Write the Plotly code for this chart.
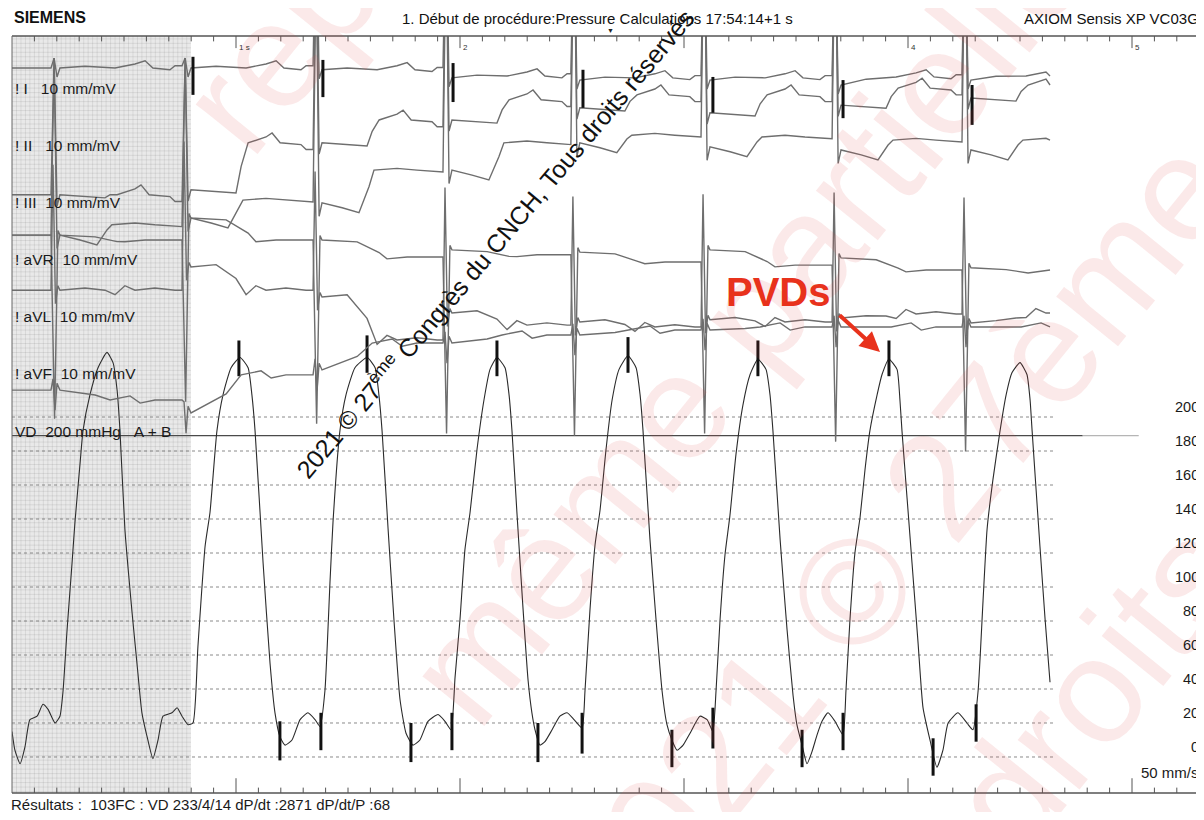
import plotly.graph_objects as go

# ---------------- data read from the recording ----------------
# Right-ventricular pressure (VD), time in s, pressure in mmHg
pressure_t = [
    0.000, 0.013, 0.036, 0.058, 0.080, 0.112, 0.138, 0.161, 0.192, 0.214, 0.228, 0.246, 0.268, 0.281,
    0.304, 0.317, 0.348, 0.384, 0.424, 0.451, 0.469, 0.482, 0.504, 0.536, 0.558, 0.580, 0.603, 0.629,
    0.652, 0.674, 0.714, 0.737, 0.759, 0.786, 0.808,
    0.830, 0.862, 0.884, 0.915, 0.942, 0.978, 1.018, 1.054, 1.071, 1.085, 1.121, 1.152, 1.174, 1.196,
    1.219, 1.250, 1.286, 1.321, 1.353, 1.375,
    1.397, 1.420, 1.433, 1.464, 1.491, 1.531, 1.585, 1.621, 1.638, 1.652, 1.679, 1.705, 1.732, 1.759,
    1.790, 1.821, 1.857, 1.902, 1.933, 1.960,
    1.978, 2.000, 2.022, 2.045, 2.076, 2.107, 2.134, 2.165, 2.201, 2.219, 2.232, 2.254, 2.281, 2.304,
    2.321, 2.335, 2.357, 2.379, 2.411, 2.446, 2.478, 2.509, 2.545,
    2.558, 2.580, 2.603, 2.625, 2.652, 2.679, 2.710, 2.750, 2.786, 2.804, 2.817, 2.848, 2.875, 2.902,
    2.924, 2.946, 2.969, 2.996, 3.027, 3.071, 3.103, 3.129,
    3.143, 3.161, 3.183, 3.205, 3.232, 3.263, 3.295, 3.330, 3.366, 3.384, 3.397, 3.429, 3.460, 3.487,
    3.504, 3.527, 3.549, 3.571, 3.594, 3.616, 3.643, 3.674, 3.710,
    3.723, 3.741, 3.763, 3.786, 3.808, 3.830, 3.862, 3.884, 3.915, 3.951, 3.964, 3.973, 4.018, 4.045,
    4.067, 4.098, 4.129, 4.156, 4.179, 4.223, 4.263, 4.290,
    4.313, 4.335, 4.353, 4.379, 4.411, 4.438, 4.464, 4.500, 4.531, 4.545, 4.554, 4.589, 4.612, 4.634,
]
pressure_mmhg = [
    15, 4, -4, 6, 22, 24, 31, 28, 20, 24, 39, 75, 114, 138,
    173, 192, 213, 229, 238, 232, 216, 192, 134, 85, 55, 26, 12, -1,
    10, 24, 26, 29, 24, 19, 20,
    65, 124, 144, 192, 213, 229, 235, 229, 213, 192, 114, 55, 26, 12,
    7, 10, 22, 26, 22, 18,
    39, 104, 138, 192, 213, 229, 235, 229, 213, 192, 134, 81, 34, 14,
    7, 10, 21, 25, 21, 16,
    47, 81, 122, 144, 181, 210, 228, 235, 229, 213, 192, 144, 88, 45,
    26, 16, 7, 9, 16, 24, 26, 22, 17,
    39, 86, 125, 145, 181, 210, 228, 236, 229, 213, 192, 128, 81, 39,
    19, 10, 4, 7, 14, 24, 22, 15,
    39, 81, 119, 142, 178, 207, 225, 234, 228, 213, 192, 128, 75, 36,
    19, 7, -4, 3, 13, 21, 26, 21, 13,
    39, 81, 120, 141, 169, 192, 213, 225, 234, 228, 210, 192, 114, 67,
    29, 10, -6, 4, 20, 26, 20, 16,
    39, 92, 134, 163, 192, 213, 226, 232, 225, 210, 192, 124, 81, 44,
]

# QRS times (s) and end of the written record (s)
qrs_t = [0.192, 0.777, 1.362, 1.942, 2.513, 3.094, 3.679, 4.259]
record_end_t = 4.634
# highest R-wave level written by the limb leads at each beat (mV on the display scale)
r_wave_limit = [16.47, 16.47, 20.0, 20.0, 20.0, 20.0, 20.0, 20.0]

# ECG leads: level after QRS / plateau level of each beat (mV on the display scale)
lead_I_post = [16.25, 16.25, 16.21, 16.03, 15.98, 15.98, 15.87, 15.98]
lead_I_plat = [16.25, 16.25, 16.21, 16.07, 16.03, 16.03, 16.05, 16.07]
lead_II_post = [13.42, 13.53, 14.58, 15.09, 15.36, 15.25, 15.42, 15.58]
lead_II_plat = [13.42, 14.58, 15.09, 15.54, 15.65, 15.65, 15.80, 15.87]
lead_III_post = [12.52, 12.90, 13.24, 13.97, 14.58, 14.49, 14.42, 14.42]
lead_III_plat = [12.75, 13.30, 13.97, 14.58, 14.75, 14.71, 14.64, 14.64]
lead_aVR_post = [12.52, 12.90, 12.41, 12.19, 12.14, 12.19, 12.01, 11.79]
lead_aVR_plat = [12.41, 12.41, 12.03, 12.08, 11.92, 11.85, 11.74, 11.74]
lead_aVL_post = [11.29, 11.81, 11.14, 10.78, 10.58, 10.63, 10.67, 10.56]
lead_aVL_plat = [11.29, 11.29, 10.18, 10.51, 10.47, 10.58, 10.76, 10.78]
lead_aVF_post = [9.06, 8.55, 9.51, 10.11, 10.29, 10.40, 10.47, 10.47]
lead_aVF_plat = [8.84, 9.40, 10.11, 10.29, 10.40, 10.47, 10.47, 10.47]

# QRS complex of each lead: (ms from QRS, mV relative to post level)
qrs_I = [(-4, 3.8), (9, -0.2), (22, 0.0)]
qrs_II = [(-4, 4.6), (9, -0.25), (22, 0.0)]
qrs_III = [(-4, 5.4), (9, -0.3), (22, 0.0)]
qrs_aVR = [(-2, -4.1), (13, 0.1), (22, 0.0)]
qrs_aVL = [(-9, 2.8), (2, -0.3), (13, 0.1), (22, 0.0)]
qrs_aVF = [(-9, 0.25), (0, -0.45), (9, 0.15), (22, 0.0)]

# ST-T segment of each lead: (ms from QRS, level 0=post 1=mid 2=plateau, mV)
st_I = [(134, 1, 0.04), (268, 2, 0.0), (357, 2, 0.09), (402, 2, 0.16), (437, 2, 0.0), (513, 2, -0.04), (536, 2, 0.05)]
st_II = [(134, 0, -0.04), (223, 0, -0.07), (246, 1, 0.0), (277, 2, 0.0), (357, 2, 0.13), (384, 2, 0.22),
         (420, 2, 0.0), (513, 2, -0.04), (536, 2, -0.15)]
st_III = [(112, 0, -0.11), (187, 0, -0.22), (232, 1, 0.0), (254, 2, 0.0), (357, 2, 0.04), (446, 2, 0.0), (536, 2, -0.04)]
st_aVR = [(179, 0, -0.04), (277, 1, -0.09), (312, 2, -0.04), (402, 2, 0.0), (536, 2, 0.0)]
st_aVL = [(134, 0, 0.05), (223, 1, 0.0), (268, 2, -0.1), (312, 2, 0.1), (357, 2, 0.0), (446, 2, 0.05), (536, 2, 0.0)]
st_aVF = [(179, 1, 0.0), (246, 2, 0.0), (335, 2, 0.09), (380, 2, -0.07), (446, 2, 0.0), (536, 2, 0.0)]

# analysis markers
qrs_mark_t = [0.808, 1.388, 1.969, 2.549, 3.129, 3.710, 4.286]
qrs_mark_top = [16.50, 16.43, 16.36, 16.21, 16.05, 15.98, 15.87]
qrs_mark_bot = [15.65, 15.60, 15.49, 15.36, 15.25, 15.13, 14.98]
peak_mark_t = [1.013, 1.585, 2.165, 2.750, 3.330, 3.915]
peak_mark_hi = [245, 248, 245, 247, 245, 245]
peak_mark_lo = [224, 226, 224, 226, 224, 224]
dia_mark_t = [1.196, 1.379, 1.781, 1.964, 2.348, 2.545, 2.946, 3.129, 3.527, 3.710, 4.112, 4.304]
dia_mark_hi = [21, 26, 20, 26, 20, 26, 16, 29, 16, 26, 11, 31]
dia_mark_lo = [-2, 4, -3, 4, -3, 2, -6, 5, -6, 4, -11, 9]

pressure_grid = [0, 20, 40, 60, 80, 100, 120, 140, 160, 180, 200]
pressure_ref_line = 189
lead_labels = ["! I&nbsp;&nbsp;&nbsp;10 mm/mV", "! II&nbsp;&nbsp;&nbsp;10 mm/mV", "! III&nbsp;&nbsp;10 mm/mV",
               "! aVR&nbsp;&nbsp;10 mm/mV", "! aVL&nbsp;&nbsp;10 mm/mV", "! aVF&nbsp;&nbsp;10 mm/mV",
               "VD&nbsp;&nbsp;200 mmHg&nbsp;&nbsp;&nbsp;A + B"]
second_labels = {1: "1 s", 2: "2", 4: "4", 5: "5"}
watermark_texts = ["reproduction", "même partielle", "2021 © 27ème", "Tous droits réservés"]

# ---------------- display scales ----------------
X_RANGE = [0, 5.3214]
P_RANGE = [-21.18, 424.12]
E_RANGE = [0.067, 16.964]
SHADE_END = 0.799
GRID_END = 4.66
FONT = "Liberation Sans, Arial, sans-serif"
RED = "#e8321c"

fig = go.Figure()

# shaded frozen segment with fine grid
fig.add_shape(type="rect", xref="x", yref="paper", x0=0, x1=SHADE_END, y0=0, y1=1,
              fillcolor="#e9e9e9", line_width=0, layer="below")
gx, gy = [], []
k = 1
while 0.02 * k < SHADE_END:
    gx += [0.02 * k, 0.02 * k, None]
    gy += [E_RANGE[0], E_RANGE[1], None]
    k += 1
k = 1
while 0.1 * k < E_RANGE[1]:
    gx += [0, SHADE_END, None]
    gy += [0.1 * k, 0.1 * k, None]
    k += 1
fig.add_trace(go.Scatter(x=gx, y=gy, yaxis="y2", mode="lines",
                         line=dict(color="rgba(90,90,90,0.12)", width=1), hoverinfo="skip"))

# pressure grid
px, py = [], []
for v in pressure_grid:
    px += [0, GRID_END, None]
    py += [v, v, None]
fig.add_trace(go.Scatter(x=px, y=py, mode="lines",
                         line=dict(color="#8a8a8a", width=1, dash="dot"), hoverinfo="skip"))
fig.add_trace(go.Scatter(x=[0, 4.78], y=[pressure_ref_line, pressure_ref_line], mode="lines",
                         line=dict(color="#4a4a4a", width=1.3), hoverinfo="skip"))
fig.add_trace(go.Scatter(x=[4.78, 5.03], y=[pressure_ref_line, pressure_ref_line], mode="lines",
                         line=dict(color="#b5b5b5", width=1.3), hoverinfo="skip"))

# time ticks (top and bottom)
tx, ty = [], []
for k in range(1, 54):
    t = k / 10
    major = (k % 10 == 0)
    tx += [t, t, None]
    ty += [E_RANGE[1], E_RANGE[1] - (0.27 if major else 0.12), None]
    tx += [t, t, None]
    ty += [E_RANGE[0], E_RANGE[0] + (0.33 if major else 0.12), None]
fig.add_trace(go.Scatter(x=tx, y=ty, yaxis="y2", mode="lines",
                         line=dict(color="#555", width=1), hoverinfo="skip"))


# ECG leads
def build_lead(post, plat, qrs, st, limit=None):
    xs, ys = [0.0], [post[0]]
    n = len(qrs_t)
    tail = st[-1][2]
    for i, tq in enumerate(qrs_t):
        prev = plat[i - 1] + tail if i > 0 else post[0]
        xs.append(tq - 0.018)
        ys.append(prev)
        for ms, v in qrs:
            val = post[i] + v
            if limit is not None:
                val = min(val, limit[i])
            xs.append(tq + ms / 1000)
            ys.append(val)
        nxt = qrs_t[i + 1] - 0.02 if i + 1 < n else record_end_t
        for ms, code, v in st:
            t = tq + ms / 1000
            if t >= nxt:
                break
            base = post[i] if code == 0 else plat[i] if code == 2 else (post[i] + plat[i]) / 2
            xs.append(t)
            ys.append(base + v)
    xs.append(record_end_t)
    ys.append(plat[-1])
    return xs, ys


leads = [
    (lead_I_post, lead_I_plat, qrs_I, st_I, r_wave_limit),
    (lead_II_post, lead_II_plat, qrs_II, st_II, r_wave_limit),
    (lead_III_post, lead_III_plat, qrs_III, st_III, r_wave_limit),
    (lead_aVR_post, lead_aVR_plat, qrs_aVR, st_aVR, None),
    (lead_aVL_post, lead_aVL_plat, qrs_aVL, st_aVL, None),
    (lead_aVF_post, lead_aVF_plat, qrs_aVF, st_aVF, None),
]
for post, plat, qrs, st, lim in leads:
    xs, ys = build_lead(post, plat, qrs, st, lim)
    fig.add_trace(go.Scatter(x=xs, y=ys, yaxis="y2", mode="lines",
                             line=dict(color="#6e6e6e", width=1.4), hoverinfo="skip"))

# pressure trace
fig.add_trace(go.Scatter(x=pressure_t, y=pressure_mmhg, mode="lines",
                         line=dict(color="#2b2b2b", width=1.1, shape="spline", smoothing=0.5),
                         hoverinfo="skip"))

# analysis markers
mx, my = [], []
for t, a, b in zip(qrs_mark_t, qrs_mark_top, qrs_mark_bot):
    mx += [t, t, None]
    my += [a, b, None]
fig.add_trace(go.Scatter(x=mx, y=my, yaxis="y2", mode="lines",
                         line=dict(color="#111", width=3), hoverinfo="skip"))
mx, my = [], []
for t, a, b in zip(peak_mark_t + dia_mark_t, peak_mark_hi + dia_mark_hi, peak_mark_lo + dia_mark_lo):
    mx += [t, t, None]
    my += [a, b, None]
fig.add_trace(go.Scatter(x=mx, y=my, mode="lines",
                         line=dict(color="#111", width=3), hoverinfo="skip"))

# frame
frame = dict(color="#555", width=1.5)
fig.add_shape(type="line", xref="paper", yref="paper", x0=0, x1=1, y0=1, y1=1, line=frame)
fig.add_shape(type="line", xref="paper", yref="paper", x0=0, x1=0, y0=0, y1=1, line=dict(color="#666", width=1))
fig.add_shape(type="line", xref="paper", yref="paper", x0=0, x1=1, y0=0, y1=0, line=frame)

ann = []
# faint background watermark
wm_pos = [(0.387, 1.305), (0.6166, 0.626), (0.738, 0.330), (0.977, 0.272)]
for txt, (wx, wy) in zip(watermark_texts, wm_pos):
    ann.append(dict(text=txt, xref="paper", yref="paper", x=wx, y=wy, xanchor="center", yanchor="middle",
                    textangle=-51, showarrow=False,
                    font=dict(family=FONT, size=150, color="rgba(225,70,70,0.12)")))
# header
ann.append(dict(text="<b>SIEMENS</b>", xref="paper", yref="paper", x=0, y=1.024, xanchor="left",
                yanchor="middle", showarrow=False, font=dict(family=FONT, size=16, color="#111")))
ann.append(dict(text="1. Début de procédure:Pressure Calculations 17:54:14+1 s", xref="paper", yref="paper",
                x=0.491, y=1.023, xanchor="center", yanchor="middle", showarrow=False,
                font=dict(family=FONT, size=15, color="#111")))
ann.append(dict(text="AXIOM Sensis XP VC03G", xref="paper", yref="paper", x=1, y=1.023, xanchor="right",
                xshift=-3, yanchor="middle", showarrow=False, font=dict(family=FONT, size=15, color="#111")))
ann.append(dict(text="▼", xref="x", yref="paper", x=2.674, y=1.0, yanchor="bottom", showarrow=False,
                font=dict(family=FONT, size=7, color="#222")))
# second labels
for s, lab in second_labels.items():
    ann.append(dict(text=lab, xref="x", yref="paper", x=s, y=1, xanchor="left", yanchor="top",
                    xshift=1, yshift=-5, showarrow=False, font=dict(family=FONT, size=8, color="#333")))
# lead labels
lead_label_y = [0.9313, 0.8547, 0.7794, 0.7041, 0.6288, 0.5548, 0.4782]
for lab, yy in zip(lead_labels, lead_label_y):
    ann.append(dict(text=lab, xref="paper", yref="paper", x=0, y=yy, xanchor="left", yanchor="middle",
                    xshift=1, showarrow=False, font=dict(family=FONT, size=15.5, color="#1a1a1a")))
# pressure scale labels
for v in pressure_grid:
    ann.append(dict(text=str(v), xref="paper", yref="y", x=1, y=v, xanchor="right", yanchor="middle",
                    xshift=-3, yshift=10, showarrow=False, font=dict(family=FONT, size=14.5, color="#1a1a1a")))
ann.append(dict(text="50 mm/s", xref="paper", yref="y", x=1, y=0, xanchor="right", yanchor="middle",
                xshift=-3, yshift=-16, showarrow=False, font=dict(family=FONT, size=15, color="#1a1a1a")))
# results line
ann.append(dict(text="Résultats :&nbsp;&nbsp;103FC : VD 233/4/14 dP/dt :2871 dP/dt/P :68", xref="paper",
                yref="paper", x=0, y=-0.0155, xanchor="left", yanchor="middle", xshift=-2, showarrow=False,
                borderpad=0, font=dict(family=FONT, size=15, color="#1a1a1a")))
# copyright stamp
ann.append(dict(text="2021 © 27<sup>ème</sup> Congrès du CNCH, Tous droits réservés", xref="paper", yref="paper",
                x=0.4044, y=0.7266, xanchor="center", yanchor="middle", textangle=-50, showarrow=False,
                font=dict(family=FONT, size=25, color="#111")))
# PVDs call-out
ann.append(dict(text="<b>PVDs</b>", xref="x", yref="y", x=3.42, y=273.5, showarrow=False,
                font=dict(family=FONT, size=40, color=RED)))
ann.append(dict(text="", xref="x", yref="y", x=3.875, y=238.2, ax=3.688, ay=260.6, axref="x", ayref="y",
                showarrow=True, arrowhead=2, arrowsize=1, arrowwidth=4, arrowcolor=RED))

# the page adds an 8px body margin, so the figure is 8px smaller on each side
fig.update_layout(
    width=1196, height=804,
    margin=dict(l=4, r=0, t=28, b=19),
    paper_bgcolor="white", plot_bgcolor="white",
    showlegend=False,
    xaxis=dict(range=X_RANGE, visible=False, fixedrange=True),
    yaxis=dict(range=P_RANGE, visible=False, fixedrange=True),
    yaxis2=dict(range=E_RANGE, visible=False, overlaying="y", fixedrange=True),
    annotations=ann,
)

fig.write_html("out.html")
